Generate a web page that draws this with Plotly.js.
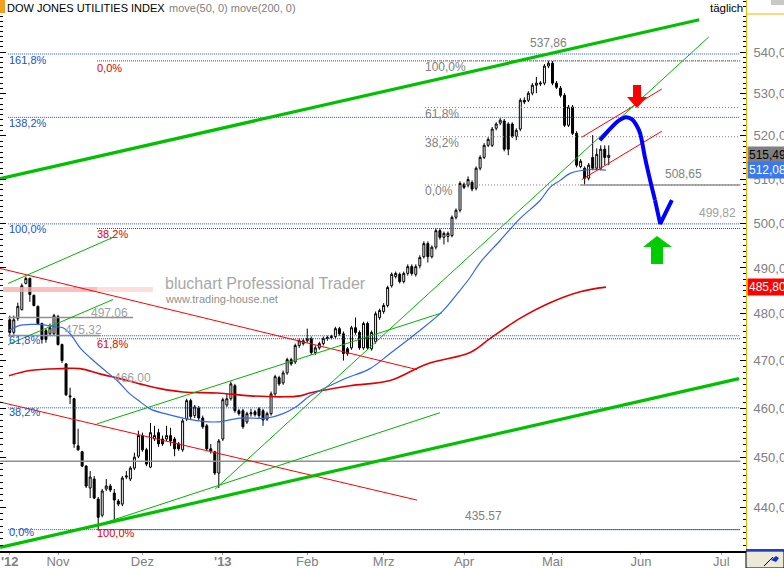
<!DOCTYPE html>
<html><head><meta charset="utf-8">
<script src="https://cdn.plot.ly/plotly-3.0.1.min.js"></script>
<style>html,body{margin:0;padding:0;background:#fff;}#chart{width:784px;height:568px;}</style>
</head><body><div id="chart"></div>
<script>
// ---- DATA (x = trading-day index, 0 = 1 Nov 2012) ----
const firstIndex = -12;
const open = [478.7,476.0,479.0,480.9,486.6,487.7,484.0,481.6,477.9,476.4,
475.7,475.7,479.4,473.4,469.3,462.6,462.0,452.3,451.1,448.2,
443.8,445.6,441.6,438.4,443.6,444.2,442.8,441.2,440.6,446.0,
445.6,447.8,450.2,454.4,451.5,448.0,453.7,455.0,453.7,453.7,
454.4,453.7,452.7,451.5,457.8,461.6,458.5,460.1,458.0,456.4,
451.7,451.1,446.8,453.7,460.7,462.0,464.7,459.5,459.5,457.2,
459.1,459.3,459.9,459.5,457.8,458.9,463.0,466.4,465.3,467.4,
470.2,469.7,473.2,473.6,474.2,474.7,471.7,472.7,473.6,474.9,
475.1,475.1,476.8,475.7,472.5,472.7,477.0,476.0,472.7,477.9,
472.5,474.0,479.2,480.5,481.8,486.1,488.1,488.6,487.0,488.8,
490.3,488.6,490.5,492.5,495.4,492.5,494.6,498.3,496.8,497.0,
497.2,501.3,502.9,508.8,508.6,509.2,507.9,512.5,515.0,517.8,
517.8,521.8,523.0,523.5,522.8,522.8,519.9,521.6,528.4,528.4,
530.1,532.0,532.3,532.5,536.6,537.3,532.5,531.3,529.6,522.5,
526.8,520.6,512.9,512.5,510.2,515.0,512.5,512.5,516.9,515.0];
const high = [479.6,479.6,482.4,486.6,488.1,487.9,484.2,481.8,478.1,476.8,
477.9,480.0,479.8,473.6,469.5,464.3,462.2,455.8,451.3,448.4,
447.2,446.2,442.0,443.6,445.6,444.6,443.6,441.6,446.2,447.2,
448.2,450.9,455.4,455.0,451.9,457.0,456.4,455.8,454.4,456.4,
456.0,454.1,453.1,457.8,462.0,462.0,460.7,460.5,458.5,456.8,
452.7,451.3,453.7,462.2,463.0,465.6,465.1,459.9,459.9,459.3,
459.9,459.7,460.3,459.9,459.3,463.5,467.0,466.8,467.9,470.6,
470.6,473.6,474.7,474.7,476.8,475.1,473.2,474.0,475.1,475.3,
475.5,477.2,477.2,476.2,472.9,477.4,479.2,476.4,478.3,478.3,
476.4,480.5,481.1,482.3,486.1,489.0,489.2,489.0,489.2,490.8,
490.8,490.8,492.8,495.9,495.9,495.0,498.8,498.8,498.1,498.1,
501.7,503.3,509.5,509.2,510.6,509.7,512.9,515.5,518.3,519.7,
522.1,523.2,524.2,524.0,523.2,523.2,521.8,528.9,529.1,530.6,
532.5,534.0,533.0,537.1,537.86,537.8,533.0,531.8,530.1,527.3,
527.3,521.1,514.6,512.9,513.7,520.2,517.1,517.8,517.8,517.8];
const low = [475.1,475.5,478.5,480.7,486.4,482.6,481.6,477.7,473.6,473.8,
475.3,475.3,473.2,469.5,462.6,460.9,451.9,451.3,448.0,443.8,
441.8,441.6,435.57,438.0,443.2,443.0,437.3,440.2,440.2,445.6,
445.2,447.4,449.8,451.1,448.2,447.8,453.3,452.1,452.3,453.3,
452.3,450.2,451.3,451.1,457.4,457.8,458.0,457.6,455.8,451.3,
450.7,446.4,443.8,453.3,460.3,461.6,459.1,458.5,455.8,456.8,
458.3,458.3,458.0,456.4,457.4,458.5,462.6,464.7,464.9,467.0,
468.9,469.3,472.7,473.2,473.8,471.2,471.2,472.3,473.2,474.2,
474.5,474.7,475.3,470.0,471.0,472.3,475.5,472.3,472.3,472.3,
472.1,473.6,478.7,480.0,481.4,485.7,487.7,486.6,486.6,488.3,
488.3,488.1,489.9,492.1,491.2,492.1,494.1,496.3,495.2,495.7,
496.8,500.8,502.4,507.7,508.1,507.2,507.4,512.0,514.6,517.4,
517.4,521.3,522.5,516.4,515.5,519.5,519.0,521.1,527.5,528.0,
529.6,530.1,531.8,532.0,536.1,532.0,531.1,529.1,522.1,522.1,
520.2,512.7,512.5,508.65,509.7,512.0,512.0,512.0,513.2,513.2];
const close = [476.0,478.7,481.6,486.1,487.7,484.2,481.8,477.9,474.5,474.5,
477.0,479.6,473.4,470.0,462.8,462.4,452.7,451.5,448.2,444.2,
446.0,441.8,438.0,443.2,444.2,443.4,441.4,440.6,445.8,446.2,
447.8,450.0,454.4,451.5,448.6,455.0,454.4,452.7,452.7,454.4,
453.3,451.7,451.7,457.4,461.6,458.3,460.3,458.0,456.2,451.7,
451.3,446.8,453.3,461.8,462.0,465.1,459.5,458.9,456.2,458.9,
458.9,458.7,458.5,457.6,458.9,463.0,466.6,465.1,467.4,470.2,
469.3,473.2,474.2,474.2,474.7,471.7,472.7,473.6,474.7,474.7,
474.9,476.8,475.7,471.5,471.5,477.0,476.0,472.7,477.9,472.7,
476.0,480.0,480.7,481.8,485.7,488.6,488.8,487.0,488.8,490.3,
488.8,490.3,492.3,495.4,492.5,494.6,498.3,496.8,497.7,497.7,
501.3,502.9,509.0,508.1,509.9,507.7,512.5,515.0,517.8,519.2,
521.6,522.8,523.7,516.9,516.9,519.9,521.3,528.4,528.0,530.1,
532.0,532.5,532.5,536.6,537.3,532.5,531.5,529.6,522.5,526.8,
520.6,513.2,514.1,510.2,513.2,512.5,515.7,516.9,515.0,515.49];

const ma50X = [-12.2,-9.5,-7.0,-4.5,-0.7,1.2,3.0,5.5,8.0,11.7,14.7,17.9,20.4,22.9,26.6,31.1,35.3,39.6,45.3,52.0,56.0,59.5,62.7,70.9,77.6,82.6,90.0,95.8,100.0,102.5,105.0,110.0,114.9,119.9,122.4,124.9,127.4,132.3,136.3];
const ma50Y = [476.4,477.5,477.7,477.7,477.2,477.0,475.7,472.7,470.6,467.9,465.8,463.0,461.4,459.9,458.9,458.0,457.4,457.2,458.0,458.0,458.9,460.5,462.6,466.0,468.3,471.5,476.4,480.7,485.1,487.9,491.2,496.1,501.0,505.1,508.1,509.7,511.3,512.2,512.08];
const ma200X = [-12.2,-7.0,0.5,5.5,10.4,15.4,20.4,25.4,31.1,39.6,47.8,56.0,60.2,62.7,72.6,82.6,91.8,102.5,107.5,114.9,122.4,129.9,136.3];
const ma200Y = [466.8,467.9,468.3,468.3,467.2,466.2,465.1,464.1,463.4,463.2,462.6,462.4,462.6,463.2,464.7,465.8,469.3,471.7,474.7,479.0,482.4,484.8,485.80];

// forecast sketch
const fcX = [134.8,136.3,137.8,139.3,141.3,142.8,144.0,144.8,146.0,147.3,148.5];
const fcY = [519.0,520.6,522.1,523.5,524.4,523.9,522.3,520.6,515.0,509.7,505.2];
const fcVX = [148.5,149.8,152.7];
const fcVY = [505.2,499.82,505.2];

// trend lines [x0, y0, x1, y1]
const greenThick = [[-14.4,510.1,159.5,547.9],[-14.4,432.1,169.4,466.2]];
const greenThin = [[-12.4,486.6,13.7,496.8],[-12.4,473.4,13.7,483.1],[9.7,456.8,95.5,480.2],[39.1,443.6,161.9,543.7],[10.4,436.6,95.0,459.1]];
const redThin = [[-14.4,489.9,89.3,468.1],[-14.4,461.3,89.3,441.4],[130.3,519.7,150.2,531.1],[130.3,509.9,150.2,521.1]];

// Fibonacci levels
const blueFib = [435.57,460.11,475.28,499.82,524.36,539.53];
const blueFibText = ['0,0%','38,2%','61,8%','100,0%','138,2%','161,8%'];
const redFib = [537.86,498.78,474.64,435.57];
const redFibText = ['0,0%','38,2%','61,8%','100,0%'];
const grayFib = [537.86,526.70,519.81,508.65];
const grayFibText = ['100,0%','61,8%','38,2%','0,0%'];
const grayLevels = [[-14.4,449.2,169.7],[-12.4,479.2,18.7],[-12.4,475.32,10.4],[129.9,508.65,169.7]];
const pinkBand = 485.3;

const tickIdx = [-12,0,21,41,62,81,101,123,145,165];
const tickText = ["<b>'12</b>","Nov","Dez","<b>'13</b>","Feb","Mrz","Apr","Mai","Jun","Jul"];

// ---- BUILD ----
const xs = open.map((_, i) => firstIndex + i);
const W = 746, H = 551;
const PX = p => p / W, PY = p => 1 - p / H;
const traces = [];
function seg(x0, y0, x1, y1, color, width, dash) {
  traces.push({type:'scatter', mode:'lines', x:[x0,x1], y:[y0,y1], line:{color:color, width:width, dash:dash||'solid'}, hoverinfo:'skip', showlegend:false});
}
blueFib.forEach(v => seg(-12.4, v, 169.7, v, '#2050d0', 1, '1px,1px'));
redFib.forEach(v => seg(9.7, v, 169.7, v, '#e01010', 1, '1px,1px'));
grayFib.forEach(v => seg(91.3, v, 169.7, v, '#808080', 1, '1px,2px'));
grayLevels.forEach(g => seg(g[0], g[1], g[2], g[1], '#909090', 1.5));
seg(-13.7, pinkBand, 9.7, pinkBand, 'rgba(248,170,170,0.75)', 5);
seg(9.7, pinkBand, 23.6, pinkBand, 'rgba(252,200,200,0.6)', 5);
traces.push({type:'scatter', mode:'lines', x:ma200X, y:ma200Y, line:{color:'#e00000', width:1.6, shape:'spline'}, hoverinfo:'skip', showlegend:false});
traces.push({type:'scatter', mode:'lines', x:ma50X, y:ma50Y, line:{color:'#3366ee', width:1.2, shape:'spline'}, hoverinfo:'skip', showlegend:false});
redThin.forEach(l => seg(l[0], l[1], l[2], l[3], '#ff0000', 1));
greenThin.forEach(l => seg(l[0], l[1], l[2], l[3], '#00b400', 1));
greenThick.forEach(l => seg(l[0], l[1], l[2], l[3], '#00c000', 3.2));
traces.push({type:'candlestick', x:xs, open:open, high:high, low:low, close:close,
  increasing:{line:{color:'#000', width:1}, fillcolor:'#ffffff'},
  decreasing:{line:{color:'#000', width:1}, fillcolor:'#000000'},
  whiskerwidth:0, hoverinfo:'skip', showlegend:false});
traces.push({type:'scatter', mode:'lines', x:fcX, y:fcY, line:{color:'#0000ff', width:4, shape:'spline'}, hoverinfo:'skip', showlegend:false});
traces.push({type:'scatter', mode:'lines', x:fcVX, y:fcVY, line:{color:'#0000ff', width:4}, hoverinfo:'skip', showlegend:false});

const F = 'Liberation Sans, Arial, sans-serif';
const ann = [];
function lab(t, x, y, color, size, xa) {
  ann.push({text:t, xref:'paper', yref:'paper', x:PX(x), y:PY(y), xanchor:xa||'left', yanchor:'middle', showarrow:false, font:{family:F, size:size||11, color:color}, borderpad:0});
}
lab('DOW JONES UTILITIES INDEX', 6, 8, '#000', 11);
lab('move(50, 0) move(200, 0)', 168, 8, '#808080', 11);
lab('täglich', 744, 8, '#000', 11.5, 'right');
lab('bluchart Professional Trader', 164, 283, '#a8a8a8', 16);
lab('www.trading-house.net', 164, 299, '#909090', 11);
[532,412,340,229,123,60].forEach((y, i) => lab(blueFibText[i], 8, y, '#2050c8', 11));
[68,234,344,533].forEach((y, i) => lab(redFibText[i], 96, y, '#e00000', 11));
[67,114,143,191].forEach((y, i) => lab(grayFibText[i], 424, y, '#808080', 12));
lab('537,86', 548, 43, '#808080', 12, 'center');
lab('508,65', 664, 174, '#808080', 12);
lab('499,82', 698, 213, '#a0a0a0', 12);
lab('435.57', 464, 516, '#808080', 12);
lab('497,06', 90, 313, '#a0a0a0', 12);
lab('475,32', 64, 330, '#a0a0a0', 12);
lab('466,00', 113, 378, '#a0a0a0', 12);
function tag(t, v, bg, fg) {
  ann.push({text:t, xref:'paper', yref:'y', x:1, xshift:1, y:Math.log10(v), xanchor:'left', yanchor:'middle', showarrow:false, bgcolor:bg, font:{family:F, size:12, color:fg}, borderpad:1});
}
tag('515,49', close[close.length-1], '#808080', '#000');
tag('512,08', ma50Y[ma50Y.length-1], '#3a78f0', '#fff');
tag('485,80', ma200Y[ma200Y.length-1], '#ff0000', '#fff');

const shapes = [
  {type:'rect', xref:'paper', yref:'paper', x0:0, x1:PX(5), y0:PY(0), y1:PY(13), fillcolor:'#f0a020', line:{width:0}},
  {type:'path', xref:'paper', yref:'paper', path:`M${PX(633)},${PY(85)} L${PX(641)},${PY(85)} L${PX(641)},${PY(97)} L${PX(647)},${PY(97)} L${PX(637)},${PY(108)} L${PX(627)},${PY(97)} L${PX(633)},${PY(97)} Z`, fillcolor:'#ff0000', line:{width:0}},
  {type:'path', xref:'paper', yref:'paper', path:`M${PX(651)},${PY(264)} L${PX(663)},${PY(264)} L${PX(663)},${PY(247)} L${PX(672)},${PY(247)} L${PX(657)},${PY(236)} L${PX(643)},${PY(247)} L${PX(651)},${PY(247)} Z`, fillcolor:'#00cc00', line:{width:0}},
  {type:'line', xref:'paper', yref:'paper', x0:1, x1:PX(784), y0:PY(14), y1:PY(14), line:{color:'#e8b800', width:1}},
  {type:'rect', xref:'paper', yref:'paper', x0:PX(771), x1:PX(784), y0:PY(0), y1:PY(5), fillcolor:'#c8c8c8', line:{width:0}},
  {type:'rect', xref:'paper', yref:'paper', x0:1, x1:PX(784), y0:0, y1:PY(568), fillcolor:'#ece9d8', line:{color:'#000', width:1}},
  {type:'line', xref:'paper', yref:'paper', x0:1, x1:PX(784), y0:PY(550), y1:PY(550), line:{color:'#2040c0', width:2}},
  {type:'path', xref:'paper', yref:'paper', path:`M${PX(771)},${PY(560)} L${PX(776)},${PY(556)} L${PX(779)},${PY(558)} L${PX(776)},${PY(562)} Z`, fillcolor:'#1030d0', line:{width:0}},
  {type:'line', xref:'paper', yref:'paper', x0:PX(764), x1:PX(773), y0:PY(566), y1:PY(557), line:{color:'#000', width:1}}
];

const minorVals = [];
for (let v = 431.25; v <= 553; v += 1.25) { if (Math.abs(v/10 - Math.round(v/10)) > 1e-6) minorVals.push(v); }
const majorVals = [440,450,460,470,480,490,500,510,520,530,540];

const layout = {
  width:784, height:568, margin:{l:0, r:38, t:0, b:17},
  paper_bgcolor:'#fff', plot_bgcolor:'#fff', showlegend:false,
  separators:', ', font:{family:F},
  xaxis:{range:[-14.43, 171.14], tickmode:'array', tickvals:tickIdx, ticktext:tickText,
    ticks:'outside', ticklen:2, tickcolor:'#a0a0a0', showgrid:false, zeroline:false,
    showline:true, linecolor:'#000', linewidth:2, tickfont:{family:F, size:13, color:'#808080'},
    ticklabelstandoff:-5, rangeslider:{visible:false}, fixedrange:true},
  yaxis:{type:'log', range:[Math.log10(431.4), Math.log10(552.8)], side:'right',
    tickmode:'array', tickvals:majorVals, tickformat:'.2f', ticks:'inside', ticklen:6, tickcolor:'#000', tickwidth:1,
    minor:{tickmode:'array', tickvals:minorVals, ticks:'inside', ticklen:3, tickcolor:'#000'},
    showgrid:false, zeroline:false, showline:true, linecolor:'#e8b800', linewidth:1, mirror:'ticks',
    tickfont:{family:F, size:13, color:'#808080'}, ticklabelstandoff:4, fixedrange:true},
  shapes:shapes, annotations:ann
};
Plotly.newPlot('chart', traces, layout, {staticPlot:true, displayModeBar:false});
</script></body></html>
